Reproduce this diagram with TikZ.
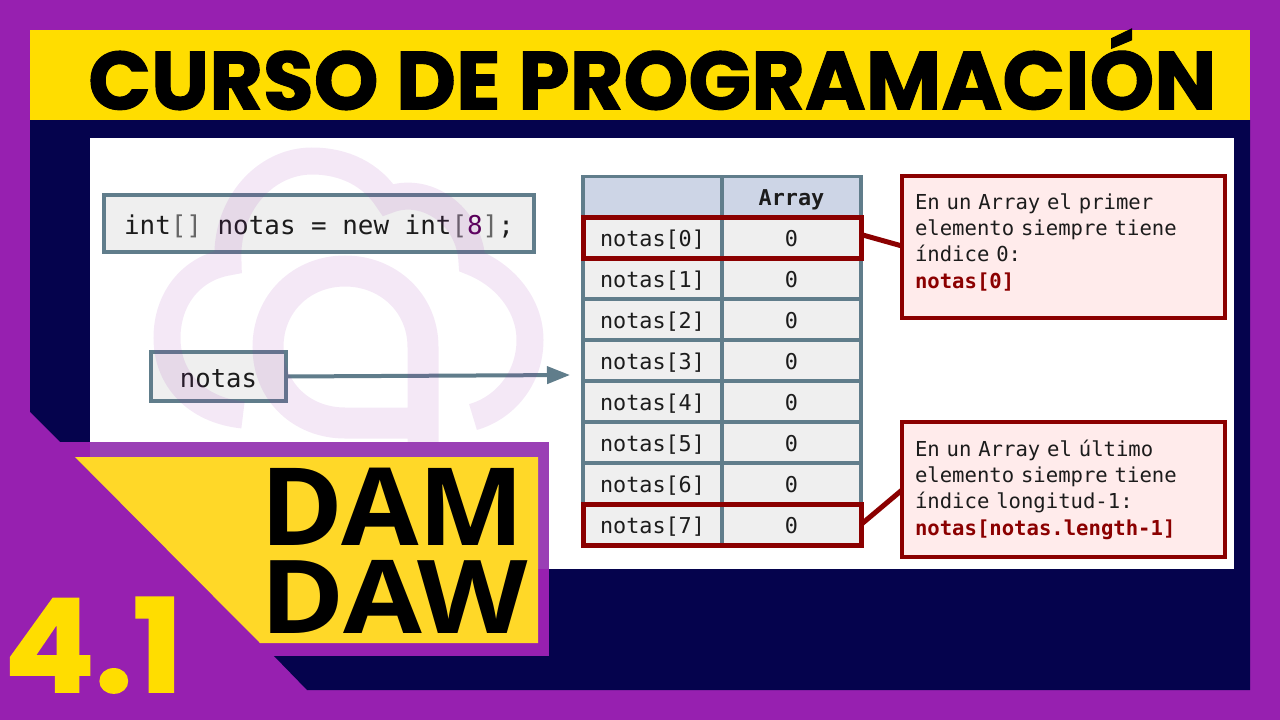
\documentclass[tikz,border=0pt]{standalone}
\usepackage{fontspec}
\usetikzlibrary{arrows.meta, fit}
\newfontfamily\codefont{DejaVu Sans Mono}
\newfontfamily\titlefont[BoldFeatures={FakeBold=1.2}]{Poppins}
\newfontfamily\tagfont{Open Sans}
\definecolor{bgpurple}{HTML}{9720B0}
\definecolor{softpurple}{HTML}{9A40B5}
\definecolor{navy}{HTML}{05034D}
\definecolor{titleyellow}{HTML}{FFDD00}
\definecolor{tagyellow}{HTML}{FFD828}
\definecolor{slate}{HTML}{607D8B}
\definecolor{cellgray}{HTML}{EFEFEF}
\definecolor{headblue}{HTML}{CDD5E6}
\definecolor{darkred}{HTML}{8B0000}
\definecolor{palered}{HTML}{FFEBEB}
\definecolor{inkgray}{HTML}{1C1C1C}
\tikzstyle{code} = [rectangle, draw=slate, line width=4pt, fill=cellgray,
  text=inkgray, outer sep=0pt]
\tikzstyle{cell} = [rectangle, minimum width=139pt, minimum height=41pt,
  text height=18pt, text depth=1pt, inner sep=0pt, outer sep=0pt,
  draw=slate, line width=3.5pt, fill=cellgray, text=inkgray,
  font=\codefont\fontsize{21.8}{26}\selectfont]
\tikzstyle{head} = [cell, fill=headblue]
\tikzstyle{redframe} = [rectangle, draw=darkred, line width=5pt, inner sep=0pt,
  outer sep=0pt]
\tikzstyle{note} = [rectangle, draw=darkred, line width=4pt, fill=palered,
  minimum width=323pt, text width=297pt, align=left, text=inkgray, outer sep=0pt,
  font=\codefont\fontsize{20.6}{26.4}\selectfont]
\tikzstyle{arrow} = [draw=slate, line width=4pt, -{Triangle[length=23pt,width=17pt]}]
\tikzstyle{pin} = [draw=darkred, line width=5pt]
\tikzstyle{tag} = [anchor=base east, inner sep=0pt, text=black, text height=78pt, text depth=0pt]
\newcommand{\hot}[1]{\textcolor{darkred}{\bfseries #1}}
\newcommand{\pale}[1]{\textcolor{gray!80!black}{#1}}

\begin{document}
\begin{tikzpicture}[x=1pt, y=-1pt, node distance=41pt]
\useasboundingbox (0,0) rectangle (1280,720);

%% background
\fill [bgpurple] (0,0) rectangle (1280,720);
\fill [navy] (30,120) -- (1250,120) -- (1250,690) -- (307,690) -- (274,656)
  -- (60,442) -- (30,412) -- cycle;
\fill [titleyellow] (30,30) rectangle (1250,120);
\fill [white] (90,138) rectangle (1234,569);

%% nodes
\node (decl) [code, minimum width=430pt, minimum height=57pt, text height=22pt, text depth=0pt,
  font=\codefont\fontsize{25.9}{30}\selectfont] at (319,223.5)
  {int\pale{[]} notas = new int\pale{[}\textcolor{violet!70!black}{8}\pale{]};};
\node (ref) [code, minimum width=135pt, minimum height=49pt, text height=21pt, text depth=0pt,
  font=\codefont\fontsize{25.6}{30}\selectfont] at (218.5,376.5) {notas};

\node (corner) [head] at (652.5,197) {};
\node (arrayHead) [head, right of=corner, xshift=98pt, font=\codefont\bfseries\fontsize{21.8}{26}\selectfont] {Array};
\node (row0) [cell, below of=corner, yshift=0.5pt] {notas[0]};
\node (row1) [cell, below of=row0] {notas[1]};
\node (row2) [cell, below of=row1] {notas[2]};
\node (row3) [cell, below of=row2] {notas[3]};
\node (row4) [cell, below of=row3] {notas[4]};
\node (row5) [cell, below of=row4] {notas[5]};
\node (row6) [cell, below of=row5] {notas[6]};
\node (row7) [cell, below of=row6] {notas[7]};
\node (val0) [cell, right of=row0, xshift=98pt] {0};
\node (val1) [cell, right of=row1, xshift=98pt] {0};
\node (val2) [cell, right of=row2, xshift=98pt] {0};
\node (val3) [cell, right of=row3, xshift=98pt] {0};
\node (val4) [cell, right of=row4, xshift=98pt] {0};
\node (val5) [cell, right of=row5, xshift=98pt] {0};
\node (val6) [cell, right of=row6, xshift=98pt] {0};
\node (val7) [cell, right of=row7, xshift=98pt] {0};
\node (first) [redframe, fit=(row0)(val0)] {};
\node (last) [redframe, fit=(row7)(val7)] {};

\node (noteFirst) [note, minimum height=142pt] at (1063.5,247)
  {En un Array el primer\\elemento siempre tiene\\índice 0:\\\hot{notas[0]}\\[-14pt]\mbox{}};
\node (noteLast) [note, minimum height=135pt] at (1063.5,489.5)
  {En un Array el último\\elemento siempre tiene\\índice longitud-1:\\\hot{notas[notas.length-1]}};

\coordinate (refTip) at (570,375);
\coordinate (pinFirst) at (902,246);
\coordinate (pinLast) at (902,490);

%% paths
\draw [arrow] (ref.east) -- (refTip);
\draw [pin] ([yshift=3pt]first.east) -- (pinFirst);
\draw [pin] (last.east) -- (pinLast);

%% watermark
\draw [bgpurple, opacity=0.1, line width=27pt] (243,415)
  .. controls (195,410) and (167,378) .. (167,338)
  .. controls (167,298) and (192,268) .. (228,262)
  .. controls (225,205) and (265,161) .. (312,161)
  .. controls (345,161) and (372,175) .. (388,200)
  .. controls (425,185) and (470,215) .. (472,262)
  .. controls (505,275) and (530,305) .. (530,340)
  .. controls (530,378) and (505,408) .. (473,417);
\draw [bgpurple, opacity=0.1, line width=31pt] (423,442) -- (423,347)
  .. controls (423,303) and (388,271) .. (345,271)
  .. controls (302,271) and (268,303) .. (268,347)
  .. controls (268,392) and (302,423) .. (345,423) -- (423,423);

%% tag
\fill [softpurple] (90,442) rectangle (549,569);
\fill [bgpurple] (0,569) rectangle (549,656);
\fill [bgpurple] (0,400) -- (30,412) -- (60,442) -- (75,442) -- (75,457)
  -- (260,643) -- (260,656) -- (0,656) -- cycle;
\fill [bgpurple] (60,442) rectangle (90,457);
\fill [tagyellow] (75,457) -- (538,457) -- (538,643) -- (260,643) -- cycle;

\node (title) [anchor=base west, inner sep=0pt, text=black,
  font=\titlefont\bfseries\fontsize{82.5}{84}\selectfont] at (88,109.5) {CURSO DE PROGRAMACIÓN};
\node (dam) [tag, font=\tagfont\bfseries\fontsize{108}{108}\selectfont] at (525,545) {\scalebox{1.04}[1]{DAM}};
\node (daw) [tag, font=\tagfont\bfseries\fontsize{102}{102}\selectfont] at (528,633) {\scalebox{1.12}[1]{DAW}};
\node (chapter) [anchor=base west, inner sep=0pt, text=titleyellow, text height=100pt, text depth=0pt,
  font=\titlefont\bfseries\fontsize{130}{130}\selectfont] at (4,692) {\scalebox{1.03}[1]{4.1}};

\end{tikzpicture}
\end{document}
